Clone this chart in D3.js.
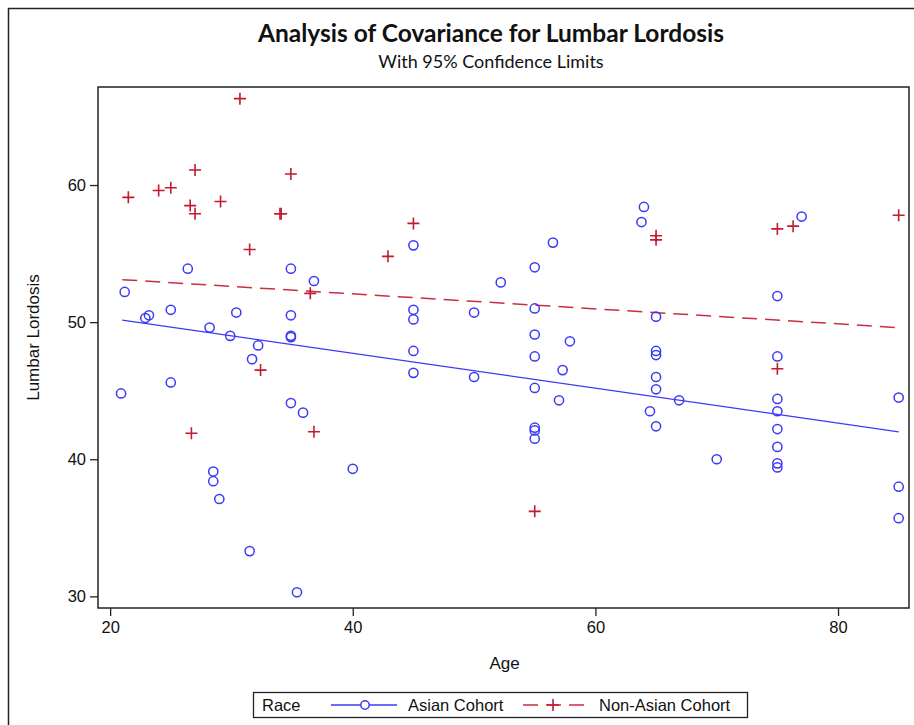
<!DOCTYPE html>
<html>
<head>
<meta charset="utf-8">
<script src="https://cdn.jsdelivr.net/npm/d3@7"></script>
<style>
  body { margin: 0; background: #fff; }
  svg text { font-family: "Liberation Sans", Arial, sans-serif; fill: #111; }
</style>
</head>
<body>
<div id="container"></div>
<script>
/* DATA */
const asianAge = [26.4, 34.9, 36.8, 21.2, 25.0, 30.4, 34.9, 23.2, 22.9, 28.2, 29.9, 34.9, 34.9, 32.2, 31.7,
  20.9, 25.0, 34.9, 35.9, 40.0, 28.5, 28.5, 29.0, 31.5, 35.4,
  45.0, 56.5, 64.0, 63.8, 55.0, 52.2, 45.0, 45.0, 50.0, 55.0, 55.0, 57.9, 45.0, 55.0, 57.3, 45.0, 50.0,
  55.0, 57.0, 55.0, 55.0, 55.0, 64.5,
  77.0, 75.0, 65.0, 65.0, 65.0, 75.0, 65.0, 65.0, 66.9, 65.0, 75.0, 75.0, 85.0, 75.0, 75.0, 70.0, 75.0, 75.0, 85.0, 85.0];
const asianLordosis = [53.9, 53.9, 53.0, 52.2, 50.9, 50.7, 50.5, 50.5, 50.3, 49.6, 49.0, 49.0, 48.9, 48.3, 47.3,
  44.8, 45.6, 44.1, 43.4, 39.3, 39.1, 38.4, 37.1, 33.3, 30.3,
  55.6, 55.8, 58.4, 57.3, 54.0, 52.9, 50.9, 50.2, 50.7, 51.0, 49.1, 48.6, 47.9, 47.5, 46.5, 46.3, 46.0,
  45.2, 44.3, 42.3, 42.1, 41.5, 43.5,
  57.7, 51.9, 50.4, 47.9, 47.6, 47.5, 46.0, 45.1, 44.3, 42.4, 44.4, 43.5, 44.5, 42.2, 40.9, 40.0, 39.7, 39.4, 38.0, 35.7];

const nonAsianAge = [30.7, 21.5, 27.0, 24.0, 25.0, 26.6, 27.0, 29.1, 34.9, 34.0, 34.1, 31.5, 36.5, 32.4, 26.7, 36.8,
  45.0, 42.9, 55.0, 65.0, 65.0, 75.0, 76.3, 85.0, 75.0];
const nonAsianLordosis = [66.3, 59.1, 61.1, 59.6, 59.8, 58.5, 57.9, 58.8, 60.8, 57.9, 57.9, 55.3, 52.1, 46.5, 41.9, 42.0,
  57.2, 54.8, 36.2, 56.3, 56.0, 56.8, 57.0, 57.8, 46.6];

// fitted lines (endpoints)
const fitAge = [21, 85];
const asianFit = [50.15, 42.0];
const nonAsianFit = [53.1, 49.6];

const xTicks = [20, 40, 60, 80];
const yTicks = [30, 40, 50, 60];

/* CONSTANTS */
const width = 914, height = 725;
const plot = { left: 98, right: 909, top: 87, bottom: 608 };
const blue = "#3a3af5";
const red = "#c41a2e";

const svg = d3.select("#container").append("svg")
  .attr("width", width).attr("height", height);

// outer frame (left and top edges visible)
svg.append("path")
  .attr("d", `M8.5,${height} L8.5,8.5 L${width},8.5`)
  .attr("fill", "none").attr("stroke", "#222").attr("stroke-width", 1.5);

/* SCALES */
const xScale = d3.scaleLinear().domain([19.0, 85.85]).range([plot.left, plot.right]);
const yScale = d3.scaleLinear().domain([29.15, 67.15]).range([plot.bottom, plot.top]);

// title
svg.append("text")
  .attr("x", 491).attr("y", 42)
  .attr("text-anchor", "middle")
  .style("font-family", "Lato, 'Open Sans', sans-serif")
  .style("font-weight", "bold")
  .style("font-size", "24.5px")
  .text("Analysis of Covariance for Lumbar Lordosis");

svg.append("text")
  .attr("x", 491).attr("y", 68)
  .attr("text-anchor", "middle")
  .style("font-family", "Lato, 'Open Sans', sans-serif")
  .style("font-size", "18px")
  .text("With 95% Confidence Limits");

/* AXES */
const xAxis = svg.append("g")
  .attr("transform", `translate(0,${plot.bottom})`)
  .call(d3.axisBottom(xScale).tickValues(xTicks).tickSize(8).tickPadding(5));
const yAxis = svg.append("g")
  .attr("transform", `translate(${plot.left},0)`)
  .call(d3.axisLeft(yScale).tickValues(yTicks).tickSize(8).tickPadding(4));

[xAxis, yAxis].forEach(g => {
  g.select(".domain").remove();
  g.selectAll("line").attr("stroke", "#222").attr("stroke-width", 1.3);
  g.selectAll("text").style("font-size", "16.5px").style("font-family", "'Liberation Sans', Arial, sans-serif").attr("fill", "#222");
});

// plot frame
svg.append("rect")
  .attr("x", plot.left).attr("y", plot.top)
  .attr("width", plot.right - plot.left).attr("height", plot.bottom - plot.top)
  .attr("fill", "none").attr("stroke", "#222").attr("stroke-width", 1.5);

// axis titles
svg.append("text")
  .attr("x", (plot.left + plot.right) / 2 + 1).attr("y", 669)
  .attr("text-anchor", "middle")
  .style("font-size", "17px")
  .text("Age");

svg.append("text")
  .attr("transform", `translate(39,${(plot.top + plot.bottom) / 2 - 10}) rotate(-90)`)
  .attr("text-anchor", "middle")
  .style("font-size", "17px")
  .text("Lumbar Lordosis");

/* FIT LINES */
const line = d3.line().x(d => xScale(d[0])).y(d => yScale(d[1]));

svg.append("path")
  .datum(fitAge.map((a, i) => [a, asianFit[i]]))
  .attr("d", line)
  .attr("fill", "none").attr("stroke", blue).attr("stroke-width", 1.3);

svg.append("path")
  .datum(fitAge.map((a, i) => [a, nonAsianFit[i]]))
  .attr("d", line)
  .attr("fill", "none").attr("stroke", "#c8303f").attr("stroke-width", 1.5)
  .attr("stroke-dasharray", "15,8");

/* POINTS */
svg.append("g").selectAll("circle")
  .data(asianAge.map((a, i) => [a, asianLordosis[i]]))
  .join("circle")
  .attr("cx", d => xScale(d[0]))
  .attr("cy", d => yScale(d[1]))
  .attr("r", 4.6)
  .attr("fill", "none")
  .attr("stroke", blue)
  .attr("stroke-width", 1.5);

const cross = "M-6,0H6M0,-6V6";
svg.append("g").selectAll("path")
  .data(nonAsianAge.map((a, i) => [a, nonAsianLordosis[i]]))
  .join("path")
  .attr("transform", d => `translate(${xScale(d[0])},${yScale(d[1])})`)
  .attr("d", cross)
  .attr("stroke", red)
  .attr("stroke-width", 1.6);

/* LEGEND */
const legend = svg.append("g");
legend.append("rect")
  .attr("x", 253.5).attr("y", 692.5).attr("width", 494).attr("height", 25)
  .attr("fill", "none").attr("stroke", "#222").attr("stroke-width", 1.3);

legend.append("text").attr("x", 262).attr("y", 711).style("font-size", "16.5px").text("Race");

legend.append("line")
  .attr("x1", 331).attr("x2", 397).attr("y1", 705).attr("y2", 705)
  .attr("stroke", blue).attr("stroke-width", 1.3);
legend.append("circle")
  .attr("cx", 365).attr("cy", 705).attr("r", 4.2)
  .attr("fill", "#fff").attr("stroke", blue).attr("stroke-width", 1.5);
legend.append("text").attr("x", 408).attr("y", 711).style("font-size", "16.5px").text("Asian Cohort");

legend.append("line")
  .attr("x1", 523).attr("x2", 585).attr("y1", 705).attr("y2", 705)
  .attr("stroke", "#c8303f").attr("stroke-width", 1.5)
  .attr("stroke-dasharray", "15,8");
legend.append("path")
  .attr("transform", "translate(553,705)")
  .attr("d", cross)
  .attr("stroke", red).attr("stroke-width", 1.6);
legend.append("text").attr("x", 599).attr("y", 711).style("font-size", "16.5px").text("Non-Asian Cohort");
</script>
</body>
</html>
